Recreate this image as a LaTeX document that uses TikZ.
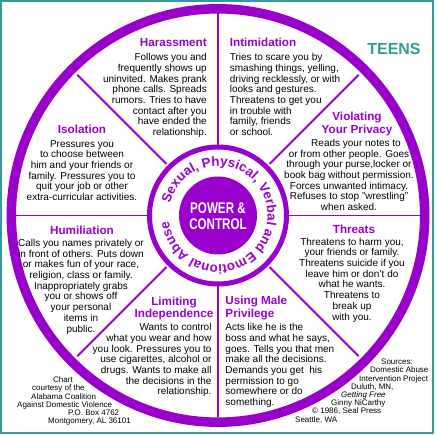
\documentclass[tikz,border=0pt]{standalone}
\usepackage{fontspec}
\setmainfont{Liberation Sans}
\usepackage{tikz}
\usetikzlibrary{decorations.text}
\definecolor{wheel}{HTML}{9900CC}
\definecolor{teen}{HTML}{339999}

\begin{document}
\begin{tikzpicture}[x=1pt, y=1pt,
    head/.style={text=wheel, font=\fontsize{11.7}{12.6}\selectfont\bfseries, inner sep=0pt, align=center},
    txt/.style={font=\fontsize{10}{10.7}\selectfont, inner sep=0pt},
    credit/.style={font=\fontsize{8}{8.2}\selectfont, inner sep=0pt, align=left}]

    \useasboundingbox (-218,-219.5) rectangle (219,215.5);
    % moldura
    \draw[teen, line width=2] (-217,214.8) rectangle (215.2,-217.8);

    % roda
    \draw[wheel, line width=9.5] (0,0) circle (206.7);
    \draw[wheel, line width=5] (0,0) circle (68.5);
    \fill[wheel] (0,0) circle (39);
    \foreach \a in {0,90,180,270} \draw[wheel, line width=1.8] (\a:70) -- (\a:202);
    \foreach \a in {45,135,225,315} \draw[wheel, line width=1.8] (\a:73) -- (\a:199);

    % centro
    \node[text=white, font=\fontsize{15.5}{15.3}\selectfont\bfseries, align=center, inner sep=0pt] (power) at (0,-0.8)
        {\scalebox{0.75}[1]{POWER \&}\\\scalebox{0.75}[1]{CONTROL}};
    \path[decorate, decoration={text along path, text align=fit to path,
        text={|\fontsize{13.3}{13.3}\selectfont\bfseries\color{wheel}|Sexual, Physical, Verbal and Emotional Abuse}}]
        (166:49.5) arc[start angle=166, end angle=-173, radius=49.5];

    \node[text=teen, font=\fontsize{16}{16}\selectfont\bfseries, anchor=base, inner sep=0pt] (teens) at (176,160.5) {TEENS};

    % Harassment
    \node[head, anchor=base east] (harass) at (-11,169.3) {Harassment};
    \node[txt, anchor=north east, align=right] (harassTxt) at (-11,162.2) {Follows you and\\frequently shows up\\uninvited. Makes prank\\phone calls. Spreads\\rumors. Tries to have\\contact after you\\have ended the\\relationship.};

    % Intimidation
    \node[head, anchor=base west] (intim) at (11.7,168.8) {Intimidation};
    \node[txt, anchor=north west, align=left] (intimTxt) at (11.7,162.2) {Tries to scare you by\\smashing things, yelling,\\driving recklessly, or with\\looks and gestures.\\Threatens to get you\\in trouble with\\family, friends\\or school.};

    % Isolation
    \node[head, anchor=base] (isol) at (-136,81.5) {Isolation};
    \node[txt, anchor=north, align=center] (isolTxt) at (-136,75.5) {Pressures you\\to choose between\\him and your friends or\\family. Pressures you to\\quit your job or other\\extra-curricular activities.};

    % Violating Your Privacy
    \node[head, anchor=north] (privacy) at (139,103.2) {Violating\\Your Privacy};
    \node[txt, anchor=north, align=center] (privacyTxt) at (131,76.5) {\hspace*{14pt}Reads your notes to\\or from other people. Goes\\through your purse,locker or\\book bag without permission.\\Forces unwanted intimacy.\\Refuses to stop "wrestling"\\when asked.};

    % Humiliation
    \node[head, anchor=base] (humil) at (-136,-18.8) {Humiliation};
    \node[txt, anchor=north, align=center] (humilTxt) at (-137,-23.5) {Calls you names privately or\\in front of others. Puts down\\or makes fun of your race,\\religion, class or family.\\Inappropriately grabs\\you or shows off\\your personal\\items in\\public.};

    % Threats
    \node[head, anchor=base] (threat) at (136,-17.8) {Threats};
    \node[txt, anchor=north, align=center] (threatTxt) at (134,-22.2) {Threatens to harm you,\\your friends or family.\\Threatens suicide if you\\leave him or don't do\\what he wants.\\Threatens to\\break up\\with you.};

    % Limiting Independence
    \node[head, anchor=north] (limit) at (-44,-81.2) {Limiting\\Independence};
    \node[txt, anchor=north east, align=right] (limitTxt) at (-6.3,-107.8) {Wants to control\\what you wear and how\\you look. Pressures you to\\use cigarettes, alcohol or\\drugs. Wants to make all\\the decisions in the\\relationship.};

    % Using Male Privilege
    \node[head, anchor=north west, align=left] (male) at (7.3,-80.5) {Using Male\\Privilege};
    \node[txt, anchor=north west, align=left] (maleTxt) at (7.3,-107.8) {Acts like he is the\\boss and what he says,\\goes. Tells you that men\\make all the decisions.\\Demands you get\ \ his\\permission to go\\somewhere or do\\something.};

    % creditos
    \node[credit, anchor=north west] (chart) at (-201,-161.2) {\hspace*{36pt}Chart\\\hspace*{15pt}courtesy of the\\\hspace*{14pt}Alabama Coalition\\Against Domestic Violence\\\hspace*{51pt}P.O. Box 4762\\\hspace*{31pt}Montgomery, AL 36101};
    \node[credit, anchor=north west] (sources) at (77,-143.5) {\hspace*{86pt}Sources:\\\hspace*{75pt}Domestic Abuse\\\hspace*{64pt}Intervention Project\\\hspace*{56pt}Duluth, MN,\\\hspace*{46pt}\textit{Getting Free}\\\hspace*{36pt}Ginny NiCarthy\\\hspace*{17pt}© 1986, Seal Press\\Seattle, WA};
\end{tikzpicture}
\end{document}
